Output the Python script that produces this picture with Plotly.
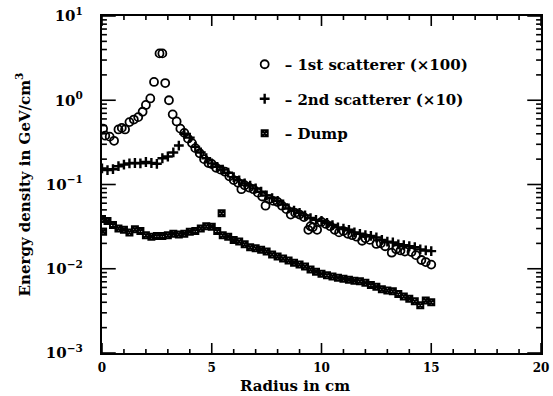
import math
import plotly.graph_objects as go

# 1st scatterer (x100)
r1 = [0.05, 0.15, 0.35, 0.55, 0.75, 0.9, 1.05, 1.25, 1.45, 1.65, 1.85, 2.0, 2.2, 2.37, 2.62, 2.75,
      2.88, 3.05, 3.22, 3.4, 3.57, 3.75, 3.92, 4.1, 4.25, 4.45, 4.65, 4.85, 5.0, 5.2, 5.4, 5.6,
      5.8, 6.0, 6.2, 6.35, 6.5, 6.7, 6.9, 7.1, 7.3, 7.45, 7.6, 7.8, 8.0, 8.2, 8.4, 8.6, 8.8,
      9.0, 9.2, 9.4, 9.5, 9.6, 9.8, 10.0, 10.2, 10.4, 10.6, 10.8, 11.0, 11.2, 11.4, 11.6, 11.85,
      12.0, 12.2, 12.5, 12.7, 12.9, 13.2, 13.4, 13.6, 13.8, 14.1, 14.3, 14.55, 14.75, 15.0]
e1 = [0.46, 0.38, 0.37, 0.33, 0.45, 0.47, 0.45, 0.55, 0.59, 0.63, 0.73, 0.88, 1.05, 1.65, 3.6, 3.6,
      1.6, 1.0, 0.68, 0.56, 0.46, 0.41, 0.35, 0.31, 0.27, 0.235, 0.20, 0.18, 0.175, 0.158, 0.15, 0.142,
      0.125, 0.113, 0.105, 0.088, 0.098, 0.092, 0.088, 0.080, 0.072, 0.056, 0.067, 0.064, 0.062, 0.056, 0.051, 0.044, 0.046,
      0.044, 0.041, 0.029, 0.032, 0.031, 0.029, 0.036, 0.034, 0.032, 0.029, 0.027, 0.028, 0.026, 0.025, 0.024, 0.0215,
      0.023, 0.022, 0.0197, 0.020, 0.0185, 0.0155, 0.017, 0.0165, 0.016, 0.0158, 0.0145, 0.0127, 0.012, 0.0112]

# 2nd scatterer (x10)
r2 = [0.0, 0.25, 0.5, 0.75, 1.0, 1.25, 1.5, 1.75, 2.0, 2.25, 2.5, 2.75, 3.0, 3.25, 3.5, 3.75,
      4.0, 4.25, 4.5, 4.75, 5.0, 5.25, 5.5, 5.75, 6.0, 6.25, 6.5, 6.75, 7.0, 7.25, 7.5, 7.75,
      8.0, 8.25, 8.5, 8.75, 9.0, 9.25, 9.5, 9.75, 10.0, 10.25, 10.5, 10.75, 11.0, 11.25, 11.5, 11.75,
      12.0, 12.25, 12.5, 12.75, 13.0, 13.25, 13.5, 13.75, 14.0, 14.25, 14.5, 14.75, 15.0]
e2 = [0.155, 0.148, 0.152, 0.165, 0.172, 0.178, 0.18, 0.178, 0.185, 0.18, 0.176, 0.205, 0.215, 0.24, 0.29, 0.40,
      0.36, 0.28, 0.24, 0.205, 0.178, 0.162, 0.15, 0.138, 0.122, 0.112, 0.103, 0.097, 0.090, 0.082, 0.074, 0.069,
      0.064, 0.058, 0.052, 0.049, 0.046, 0.043, 0.040, 0.038, 0.037, 0.035, 0.033, 0.031, 0.030, 0.029, 0.027, 0.026,
      0.025, 0.0245, 0.0235, 0.022, 0.021, 0.0205, 0.0195, 0.019, 0.0185, 0.018, 0.017, 0.0165, 0.0162]

# Dump
r3 = [0.0, 0.05, 0.25, 0.5, 0.75, 1.0, 1.25, 1.5, 1.75, 2.0, 2.25, 2.5, 2.75, 3.0, 3.25, 3.5, 3.75,
      4.0, 4.25, 4.5, 4.75, 5.0, 5.25, 5.45, 5.5, 5.75, 6.0, 6.25, 6.5, 6.75, 7.0, 7.25, 7.5, 7.75,
      8.0, 8.25, 8.5, 8.75, 9.0, 9.25, 9.5, 9.75, 10.0, 10.25, 10.5, 10.75, 11.0, 11.25, 11.5, 11.75,
      12.0, 12.25, 12.5, 12.75, 13.0, 13.25, 13.5, 13.75, 14.0, 14.25, 14.5, 14.75, 15.0]
e3 = [0.039, 0.0275, 0.037, 0.033, 0.030, 0.029, 0.027, 0.0295, 0.028, 0.025, 0.024, 0.0245, 0.0245, 0.025, 0.026, 0.0255, 0.026,
      0.0275, 0.028, 0.030, 0.032, 0.0315, 0.028, 0.0455, 0.025, 0.024, 0.022, 0.021, 0.0195, 0.018, 0.0175, 0.0168, 0.016, 0.0148,
      0.014, 0.0132, 0.0125, 0.0118, 0.0112, 0.0106, 0.0098, 0.0092, 0.0087, 0.0084, 0.0081, 0.0078, 0.0076, 0.0074, 0.0072, 0.0071,
      0.0068, 0.0064, 0.0061, 0.0057, 0.0055, 0.0054, 0.0050, 0.0047, 0.0044, 0.0041, 0.0037, 0.0042, 0.0040]

names = ["\u2013 1st scatterer (\u00d7100)", "\u2013 2nd scatterer (\u00d710)", "\u2013 Dump"]
y_label_alias = {"1": "10<sup>0</sup>", "10": "10<sup>1</sup>"}

FONT = "DejaVu Serif"
X_RANGE = (0, 20)
LOG_RANGE = (-3, 1)
PLOT_W, PLOT_H = 447, 337   # plot area in px (for tick lengths)

fig = go.Figure()
fig.add_trace(go.Scatter(x=r1, y=e1, mode="markers", name=names[0], legendgroup="a",
                         marker=dict(symbol="circle-open", size=8, color="black", line=dict(width=1.8))))
fig.add_trace(go.Scatter(x=r2, y=e2, mode="markers", name=names[1], legendgroup="b",
                         marker=dict(symbol="cross-thin-open", size=7, color="black", line=dict(width=2.4))))
fig.add_trace(go.Scatter(x=r3, y=e3, mode="markers", name=names[2], legendgroup="c",
                         marker=dict(symbol="square-x-open", size=6, color="black", line=dict(width=2))))

# inside tick marks on all four sides, placed from the axis ranges (axis decoration only)
x_per_px = (X_RANGE[1] - X_RANGE[0]) / PLOT_W
dec_per_px = (LOG_RANGE[1] - LOG_RANGE[0]) / PLOT_H
tx, ty = [], []
for v in range(X_RANGE[0], X_RANGE[1] + 1):
    n = 10 if v % 5 == 0 else 4
    tx += [v, v, None, v, v, None]
    ty += [10 ** LOG_RANGE[0], 10 ** (LOG_RANGE[0] + n * dec_per_px), None,
           10 ** LOG_RANGE[1], 10 ** (LOG_RANGE[1] - n * dec_per_px), None]
for dec in range(LOG_RANGE[0], LOG_RANGE[1] + 1):
    for m in range(1, 10):
        if dec == LOG_RANGE[1] and m > 1:
            break
        yv = m * 10 ** dec
        n = 14 if m == 1 else 5
        tx += [X_RANGE[0], X_RANGE[0] + n * x_per_px, None, X_RANGE[1], X_RANGE[1] - n * x_per_px, None]
        ty += [yv, yv, None, yv, yv, None]
fig.add_trace(go.Scatter(x=tx, y=ty, mode="lines", showlegend=False, hoverinfo="skip",
                         line=dict(color="black", width=1.6), connectgaps=False, cliponaxis=False))

fig.update_xaxes(range=list(X_RANGE), tickmode="linear", tick0=0, dtick=5, ticks="",
                 showline=True, linecolor="black", linewidth=1.5, mirror=True,
                 showgrid=False, zeroline=False, ticklabeloverflow="allow", ticklabelstandoff=3,
                 tickfont=dict(family=FONT, size=12, color="black", weight="bold"))
fig.update_yaxes(type="log", range=list(LOG_RANGE), tickmode="linear", tick0=0, dtick=1,
                 exponentformat="power", labelalias=y_label_alias, ticks="",
                 showline=True, linecolor="black", linewidth=1.5, mirror=True,
                 showgrid=False, zeroline=False, ticklabelstandoff=15,
                 tickfont=dict(family=FONT, size=12, color="black", weight="bold"),
                 title=dict(text="Energy density in GeV/cm<sup>3</sup>", standoff=12,
                            font=dict(family=FONT, size=15, color="black", weight="bold")))

fig.add_annotation(text="Radius in cm", xref="paper", yref="paper", x=0.4385, y=-0.099,
                   xanchor="center", yanchor="middle", showarrow=False,
                   font=dict(family=FONT, size=15, color="black", weight="bold"))

fig.update_layout(
    width=553, height=396,
    margin=dict(l=102, r=4, t=16, b=43),
    paper_bgcolor="white", plot_bgcolor="white",
    showlegend=True,
    legend=dict(x=0.325, y=0.905, xanchor="left", yanchor="top", bgcolor="rgba(0,0,0,0)",
                tracegroupgap=12, traceorder="grouped",
                font=dict(family=FONT, size=15, color="black", weight="bold")),
)

fig.write_html("out.html")
